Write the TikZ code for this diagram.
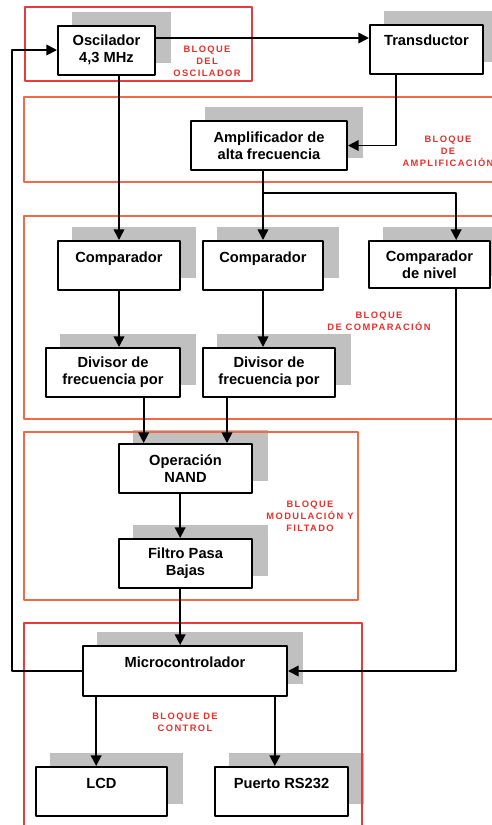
\documentclass[tikz,border=0pt]{standalone}
\usepackage{fontspec}
\setmainfont{Liberation Sans}
\newfontfamily\lblfont[LetterSpace=15]{Liberation Sans}
\usetikzlibrary{arrows.meta,backgrounds}
\definecolor{framered}{HTML}{E83B3B}
\definecolor{frameorange}{HTML}{F26A45}
\definecolor{labelred}{HTML}{E8302A}
\definecolor{shadowgray}{HTML}{C0C0C0}

\begin{document}
\begin{tikzpicture}[
  x=0.75pt,
  y=-0.75pt,
  line join=round,
  blk/.style={draw=black,line width=1.5pt,fill=white,minimum height=36.75pt,
    inner sep=0pt,align=center,font=\fontsize{11}{12.75}\selectfont\bfseries},
  frame/.style={draw=#1,line width=1pt},
  blocklabel/.style={text=labelred,align=center,inner sep=0pt,
    font=\lblfont\fontsize{7}{9}\selectfont\bfseries},
  conn/.style={draw=black,line width=1.3pt,-{Triangle[length=8pt,width=8pt]}},
  wire/.style={draw=black,line width=1.3pt}
]
  \useasboundingbox (0,0) rectangle (492,825);
  \clip (0,0) rectangle (492,825);

  % Red frames around each functional block.
  \draw[frame=framered] (25,7) rectangle (252,81);
  \draw[frame=frameorange] (24,97) rectangle (500,182);
  \draw[frame=frameorange] (24,216) rectangle (500,419);
  \draw[frame=frameorange] (24,432) rectangle (358,600);
  \draw[frame=framered] (24,623) rectangle (362,840);

  % Block names.
  \node[blocklabel] (lblosc) at (207,61) {BLOQUE\\DEL\\OSCILADOR};
  \node[blocklabel] (lblamp) at (448,151) {BLOQUE\\DE\\AMPLIFICACIÓN};
  \node[blocklabel] (lblcomp) at (379,321) {BLOQUE\\DE COMPARACIÓN};
  \node[blocklabel] (lblmod) at (310,516) {BLOQUE\\MODULACIÓN Y\\FILTADO};
  \node[blocklabel] (lblctrl) at (185,722) {BLOQUE DE\\CONTROL};

  % Stages.
  \node[blk,minimum width=72.75pt] (osc) at (106.5,50) {Oscilador\\4,3 MHz};
  \node[blk,minimum width=84.75pt] (trans) at (426.5,49) {Transductor\\~};
  \node[blk,minimum width=117pt] (amp) at (269,145.5) {Amplificador de\\alta frecuencia};
  \node[blk,minimum width=91.5pt] (comp1) at (119,265.5) {Comparador\\~};
  \node[blk,minimum width=90pt] (comp2) at (263,265.5) {Comparador\\~};
  \node[blk,minimum width=90.75pt,minimum height=35.25pt] (compn) at (429.5,264.5) {Comparador\\de nivel};
  \node[blk,minimum width=100.5pt] (div1) at (113,372.5) {Divisor de\\frecuencia por};
  \node[blk,minimum width=99pt] (div2) at (269,372.5) {Divisor de\\frecuencia por};
  \node[blk,minimum width=99.75pt] (nand) at (185.5,468.5) {Operación\\NAND};
  \node[blk,minimum width=99.75pt] (filt) at (185.5,563.5) {Filtro Pasa\\Bajas};
  \node[blk,minimum width=153pt,minimum height=37.5pt] (micro) at (185,671) {Microcontrolador\\~};
  \node[blk,minimum width=98.25pt] (lcd) at (101.5,791.5) {LCD\\~};
  \node[blk,minimum width=99.75pt] (rs) at (281.5,791.5) {Puerto RS232\\~};

  % Gray drop shadows behind the stages.
  \begin{scope}[on background layer]
    \foreach \n in {osc,trans,amp,comp1,comp2,compn,div1,div2,nand,filt,micro,lcd,rs} {
      \fill[shadowgray] ([shift={(15,-13)}]\n.south west) rectangle ([shift={(15,-13)}]\n.north east);
    }
  \end{scope}

  % Signal path.
  \coordinate (fbk) at (12,360);
  \coordinate (split) at (263,193);
  \draw[conn] (micro.west) -| (fbk) |- (osc.west);
  \draw[conn] ([yshift=9pt]osc.east) -- ([yshift=9pt]osc.east -| trans.west);
  \draw[conn] ([xshift=-23pt]trans.south) |- (amp.east);
  \draw[conn] (osc.south -| comp1.north) -- (comp1.north);
  \draw[wire] (amp.south -| split) -- (split);
  \draw[conn] (split) -- (comp2.north);
  \draw[conn] (split) -| ([xshift=20pt]compn.north);
  \draw[conn] (comp1.south) -- (comp1.south |- div1.north);
  \draw[conn] (comp2.south) -- (comp2.south |- div2.north);
  \draw[conn] ([xshift=23pt]div1.south) -- ([xshift=23pt]div1.south |- nand.north);
  \draw[conn] ([xshift=-31.5pt]div2.south) -- ([xshift=-31.5pt]div2.south |- nand.north);
  \draw[conn] ([xshift=-4pt]nand.south) -- ([xshift=-4pt]filt.north);
  \draw[conn] ([xshift=-4pt]filt.south) -- ([xshift=-4pt]filt.south |- micro.north);
  \draw[conn] ([xshift=20pt]compn.south) |- (micro.east);
  \draw[conn] ([xshift=-4pt]lcd.north |- micro.south) -- ([xshift=-4pt]lcd.north);
  \draw[conn] ([xshift=-5pt]rs.north |- micro.south) -- ([xshift=-5pt]rs.north);
\end{tikzpicture}
\end{document}
